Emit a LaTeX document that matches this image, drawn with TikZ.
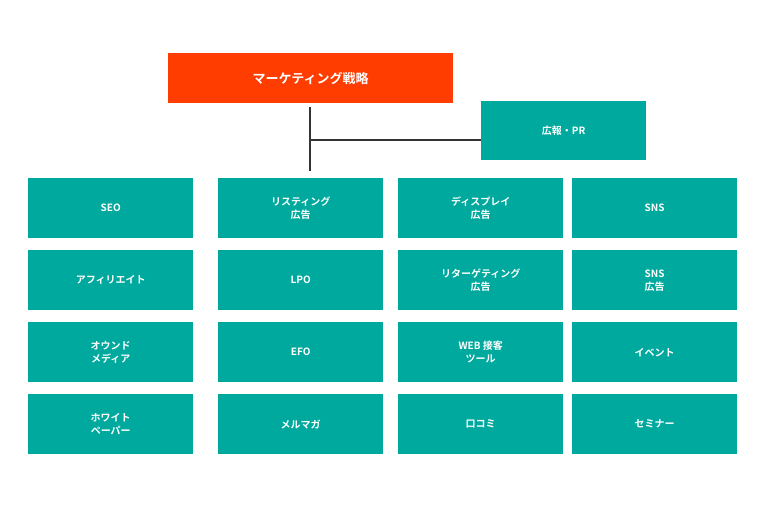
\documentclass[tikz,border=0pt]{standalone}
\usepackage{fontspec}
\setmainfont{Noto Sans CJK JP}[BoldFont={Noto Sans CJK JP Bold}]
\definecolor{teal1}{HTML}{00A99D}
\definecolor{red1}{HTML}{FF3D00}
\definecolor{ln}{HTML}{333333}
\begin{document}
\begin{tikzpicture}[x=1pt,y=-1pt,
  cell/.style={fill=teal1,text=white,font=\bfseries\fontsize{10}{13}\selectfont,align=center,minimum width=165pt,minimum height=60pt,inner sep=0pt,anchor=north west}]
\useasboundingbox (0,0) rectangle (780,516);
\node[cell,fill=red1,minimum width=285pt,minimum height=50pt,font=\bfseries\fontsize{13}{16}\selectfont] (top) at (168,53) {マーケティング戦略};
\node[cell,minimum height=59pt] (pr) at (481,101) {広報・PR};
\node[cell] (a1) at (28,178) {SEO};
\node[cell] (a2) at (28,250) {アフィリエイト};
\node[cell] (a3) at (28,322) {オウンド\\メディア};
\node[cell] (a4) at (28,394) {ホワイト\\ペーパー};
\node[cell] (b1) at (218,178) {リスティング\\広告};
\node[cell] (b2) at (218,250) {LPO};
\node[cell] (b3) at (218,322) {EFO};
\node[cell] (b4) at (218,394) {メルマガ};
\node[cell] (c1) at (398,178) {ディスプレイ\\広告};
\node[cell] (c2) at (398,250) {リターゲティング\\広告};
\node[cell] (c3) at (398,322) {WEB 接客\\ツール};
\node[cell] (c4) at (398,394) {口コミ};
\node[cell] (d1) at (572,178) {SNS};
\node[cell] (d2) at (572,250) {SNS\\広告};
\node[cell] (d3) at (572,322) {イベント};
\node[cell] (d4) at (572,394) {セミナー};
\coordinate (v1) at (310,107);
\coordinate (v2) at (310,171);
\coordinate (j) at (310,140);
\draw[ln,line width=1.2pt] (v1) -- (v2);
\draw[ln,line width=1.2pt] (j) -- (j -| pr.west);
\end{tikzpicture}
\end{document}
